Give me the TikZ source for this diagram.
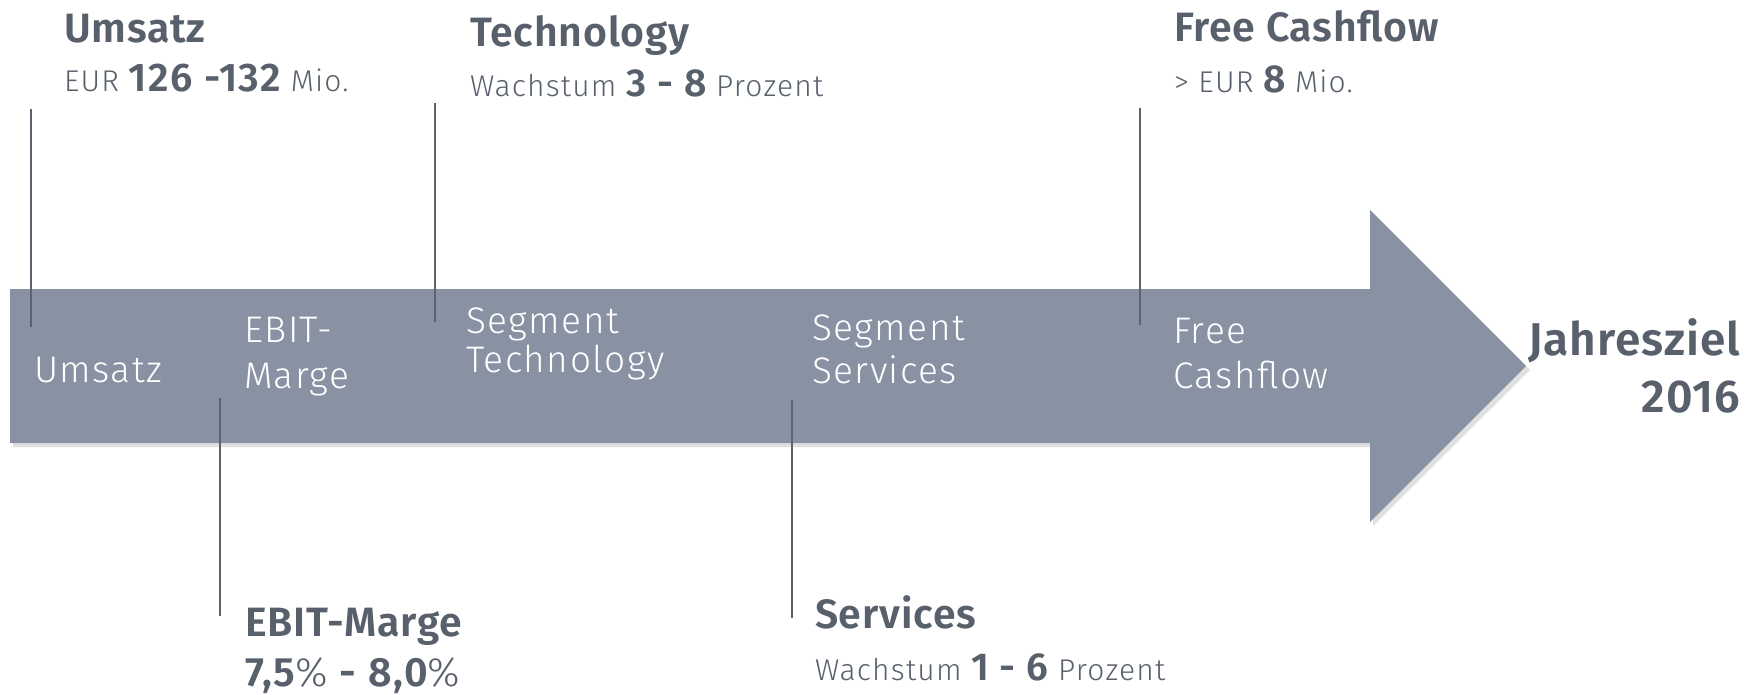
\documentclass[tikz,border=0pt]{standalone}
\usepackage{fontspec}
\setmainfont{Fira Sans}
\newfontfamily\lt{Fira Sans Light}[LetterSpace=4]
\newfontfamily\bd{Fira Sans SemiBold}[LetterSpace=2]
\newfontfamily\bdw{Fira Sans SemiBold}[LetterSpace=4]
\definecolor{arrowc}{RGB}{136,146,163}
\definecolor{txt}{RGB}{88,96,108}
\definecolor{linec}{RGB}{92,99,110}
\newcommand{\fs}[1]{\fontsize{#1}{#1}\selectfont}
\begin{document}
\begin{tikzpicture}[x=1pt,y=-1pt,
  every node/.style={inner sep=0pt,outer sep=0pt,anchor=base west,text=txt},
  title/.style={font=\bd\fs{41}},
  sub/.style={font=\lt\fs{30}},
  intext/.style={font=\lt\fs{37},text=white},
  guide/.style={draw=linec,line width=1.8pt}]
\useasboundingbox (0,0) rectangle (1758,695);
% shadow
\fill[black,opacity=0.12] (13,293) -- (1373,293) -- (1373,214) -- (1530,370) -- (1373,526) -- (1373,447) -- (13,447) -- cycle;
% arrow
\fill[arrowc] (10,289) -- (1370,289) -- (1370,210) -- (1526,366) -- (1370,522) -- (1370,443) -- (10,443) -- cycle;
% labels inside the arrow
\node[intext] (aU) at (34,382) {Umsatz};
\node[intext] (aE1) at (244,342) {EBIT-};
\node[intext] (aE2) at (244,388) {Marge};
\node[intext] (aT1) at (466,333) {Segment};
\node[intext] (aT2) at (466,372) {Technology};
\node[intext] (aS1) at (812,340) {Segment};
\node[intext] (aS2) at (812,383) {Services};
\node[intext] (aF1) at (1173,343) {Free};
\node[intext] (aF2) at (1173,388) {Cashflow};
% goal
\node[font=\bd\fs{46},anchor=base east] (j1) at (1740,355) {Jahresziel};
\node[font=\bd\fs{46},anchor=base east] (j2) at (1740,412) {2016};
% top labels
\node[title] (tU) at (64,43) {Umsatz};
\node[sub] (sU) at (64,92) {EUR {\bdw\fs{40}126 -132} Mio.};
\node[title] (tT) at (470,47) {Technology};
\node[sub] (sT) at (470,97) {Wachstum {\bdw\fs{39}3 - 8} Prozent};
\node[title] (tF) at (1174,42) {Free Cashflow};
\node[sub] (sF) at (1174,93) {> EUR {\bdw\fs{39}8} Mio.};
% bottom labels
\node[title] (tE) at (245,636) {EBIT-Marge};
\node[font=\bdw\fs{41}] (sE) at (245,686) {7,5{\lt\%} - 8,0{\lt\%}};
\node[title] (tS) at (815,628) {Services};
\node[sub] (sS) at (815,680) {Wachstum {\bdw\fs{39}1 - 6} Prozent};
% guide lines
\coordinate (gU1) at (31,109); \coordinate (gU2) at (31,327);
\coordinate (gT1) at (435,103); \coordinate (gT2) at (435,322);
\coordinate (gE1) at (220,398); \coordinate (gE2) at (220,616);
\coordinate (gS1) at (792,400); \coordinate (gS2) at (792,618);
\coordinate (gF1) at (1140,108); \coordinate (gF2) at (1140,325);
\draw[guide] (gU1) -- (gU2);
\draw[guide] (gT1) -- (gT2);
\draw[guide] (gE1) -- (gE2);
\draw[guide] (gS1) -- (gS2);
\draw[guide] (gF1) -- (gF2);
\end{tikzpicture}
\end{document}
